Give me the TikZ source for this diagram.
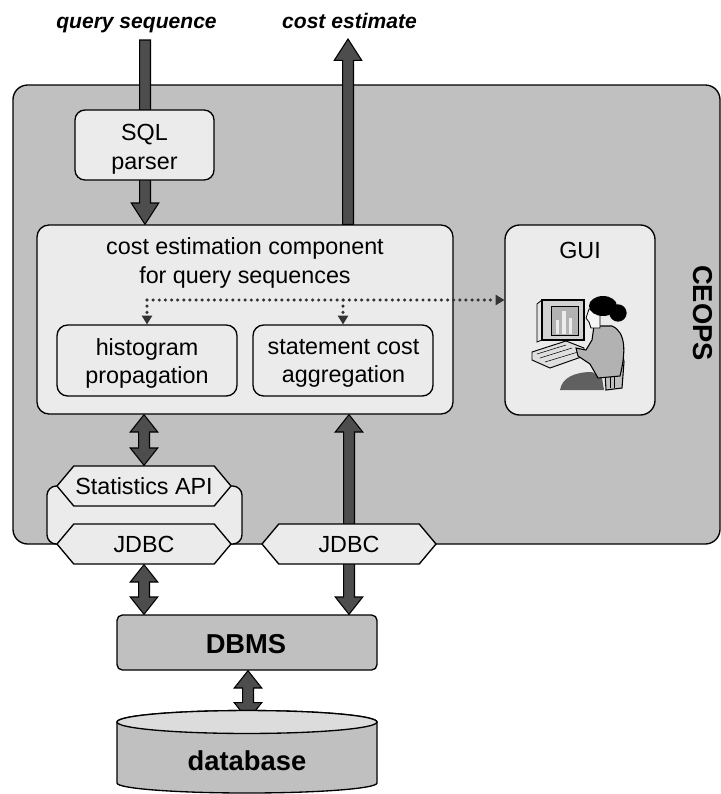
\documentclass[tikz,border=0pt]{standalone}
\usepackage{fontspec}
\setmainfont{Liberation Sans}
\usetikzlibrary{calc,fit,shapes.symbols,arrows.meta}

\pgfdeclarelayer{back}
\pgfdeclarelayer{mid}
\pgfsetlayers{back,mid,main}

\definecolor{panel}{HTML}{C0C0C0}
\definecolor{boxfill}{HTML}{EBEBEB}
\definecolor{arrowfill}{HTML}{4D4D4D}
\definecolor{dotcol}{HTML}{333333}
\definecolor{dbtop}{HTML}{DCDCDC}

\newcommand\txtbody{\fontsize{17.5pt}{21.5pt}\selectfont}
\newcommand\txtbig{\fontsize{20.5pt}{24pt}\selectfont\bfseries}
\newcommand\txttitle{\fontsize{15.8pt}{19pt}\selectfont\bfseries\itshape}

\tikzset{
  lightbox/.style={draw=black, line width=1pt, fill=boxfill, inner sep=0pt},
  darkbox/.style={draw=black, line width=1pt, fill=panel, inner sep=0pt},
  hexbox/.style={signal, signal to=west and east, signal pointer angle=100,
    draw=black, line width=1pt, fill=boxfill, minimum width=130.5pt,
    minimum height=30pt, inner sep=0pt, font=\txtbody},
  txtnode/.style={font=\txtbody, align=center, inner sep=0pt},
  bigtxt/.style={font=\txtbig, inner sep=0pt},
  dotline/.style={draw=dotcol, line width=2.6pt, dash pattern=on 0pt off 4.6pt,
    line cap=round, -{Triangle[length=6.5pt,width=8pt,line width=0pt]}},
  % broad vertical arrow with one head at the target end
  fatone/.style={draw=black, fill=arrowfill, line width=0.8pt, line join=miter,
    to path={let \p1=(\tikztostart), \p2=(\tikztotarget), \n1={(\y2>\y1)?1:-1} in
      ({\x1-4.1pt},{\y1}) -- ({\x1-4.1pt},{\y2-(\n1)*16pt}) -- ({\x1-10.3pt},{\y2-(\n1)*16pt})
      -- ({\x1},{\y2}) -- ({\x1+10.3pt},{\y2-(\n1)*16pt}) -- ({\x1+4.1pt},{\y2-(\n1)*16pt})
      -- ({\x1+4.1pt},{\y1}) -- cycle}},
  % broad vertical arrow with heads at both ends
  fattwo/.style={draw=black, fill=arrowfill, line width=0.8pt, line join=miter,
    to path={let \p1=(\tikztostart), \p2=(\tikztotarget), \n1={(\y2>\y1)?1:-1} in
      ({\x1},{\y1}) -- ({\x1+10.3pt},{\y1+(\n1)*13pt}) -- ({\x1+4.1pt},{\y1+(\n1)*13pt})
      -- ({\x1+4.1pt},{\y2-(\n1)*13pt}) -- ({\x1+10.3pt},{\y2-(\n1)*13pt}) -- ({\x1},{\y2})
      -- ({\x1-10.3pt},{\y2-(\n1)*13pt}) -- ({\x1-4.1pt},{\y2-(\n1)*13pt})
      -- ({\x1-4.1pt},{\y1+(\n1)*13pt}) -- ({\x1-10.3pt},{\y1+(\n1)*13pt}) -- cycle}},
}

\begin{document}
\begin{tikzpicture}[x=0.75pt,y=-0.75pt]
\useasboundingbox (0,0) rectangle (721,794);

% ---- CEOPS frame ----
\begin{pgfonlayer}{back}
  \node[draw=black, line width=1pt, fill=panel, rounded corners=11pt, inner sep=0pt,
        fit={(13,85)(720,544)}] (ceops) {};
\end{pgfonlayer}
\node[bigtxt, rotate=-90] (ceopslabel) at (703,313) {CEOPS};

% ---- external inputs / outputs ----
\node[font=\txttitle, anchor=base, inner sep=0pt] (qtitle) at (136.5,28) {query sequence};
\node[font=\txttitle, anchor=base, inner sep=0pt] (ctitle) at (349.5,28) {cost estimate};
\coordinate (qin) at (145,40);
\coordinate (cout) at (348,39);

% ---- components ----
\node[lightbox, rounded corners=7.5pt, fit={(75,110)(214,180)}] (sql) {};
\node[txtnode] (sqllabel) at (144.5,149) {SQL\\parser};
\node[lightbox, rounded corners=9pt, fit={(37,225)(453,414)}] (cost) {};
\node[txtnode] (costlabel) at (245,263) {cost estimation component\\for query sequences};
\node[lightbox, rounded corners=8pt, fit={(57,325)(237,396)}] (hist) {};
\node[txtnode] (histlabel) at (147,363.5) {histogram\\propagation};
\node[lightbox, rounded corners=8pt, fit={(253,325)(433,396)}] (stmt) {};
\node[txtnode] (stmtlabel) at (343.5,363.5) {statement cost\\aggregation};

\node[lightbox, rounded corners=11pt, fit={(505,225)(655,415)}] (gui) {};
\node[txtnode, anchor=base] (guilabel) at (580,258) {GUI};

% ---- statistics interface and JDBC connectors ----
\node[lightbox, rounded corners=7pt, fit={(47,486)(242,544)}] (statgroup) {};
\node[hexbox] (stat) at (144,486) {Statistics API};
\node[hexbox] (jdbcl) at (144,544) {JDBC};
\node[hexbox] (jdbcr) at (349,544) {JDBC};

% ---- DBMS and database ----
\node[darkbox, rounded corners=4pt, fit={(117,615)(377,670)}] (dbms) {};
\node[bigtxt, anchor=base] (dbmslabel) at (246,653) {DBMS};
\draw[line width=1pt, fill=panel] (117,722) -- (117,783)
  arc[start angle=180, end angle=360, x radius=97.5pt, y radius=7.5pt]
  -- (377,722) arc[start angle=0, end angle=180, x radius=97.5pt, y radius=8.6pt] -- cycle;
\draw[line width=1pt, fill=dbtop] (247,722) ellipse[x radius=97.5pt, y radius=8.6pt];
\node[bigtxt, anchor=base] (db) at (247,770) {database};
\coordinate (dbtop) at (248,720);

% ---- broad data-flow arrows ----
\begin{pgfonlayer}{mid}
  \draw[fatone] (qin) to (qin |- cost.north);
  \draw[fatone] (cout |- cost.north) to (cout);
  \draw[fattwo] (stat.north |- cost.south) to (stat.north);
  \draw[fattwo] (jdbcl.south) to (jdbcl.south |- dbms.north);
  \draw[fattwo] (jdbcr.north |- cost.south) to (jdbcr.north |- dbms.north);
  \draw[fattwo] (dbtop |- dbms.south) to (dbtop);
\end{pgfonlayer}

% ---- dotted notification lines ----
\coordinate (split) at (147,300);
\draw[dotline] (split) -- (split -| gui.west);
\draw[dotline] (split) -- (hist.north);
\draw[dotline] (split -| stmt.north) -- (stmt.north);

% ---- user at a workstation ----
\draw[black, line width=0.6pt, fill=gray!20] (537,304) -- (542,300) -- (542,340) -- (537,342) -- cycle;
\draw[black, line width=0.8pt, fill=gray!35] (542,300) rectangle (584,340);
\draw[black, line width=0.6pt, fill=gray!60] (551,306) rectangle (578,335);
\fill[gray!15] (556,320) rectangle (559,334);
\fill[gray!15] (562,311) rectangle (566,334);
\fill[gray!15] (569,318) rectangle (572,334);
\draw[black, line width=0.7pt, fill=gray!25] (532,352) -- (566,341) -- (584,348)
  -- (584,356) -- (550,368) -- (532,360) -- cycle;
\draw[black, line width=0.4pt] (537,354) -- (566,345) (540,358) -- (572,348) (545,362) -- (578,352);
\fill[gray!75!black] (560,390) .. controls (562,378) and (574,372) .. (592,372) -- (602,378) -- (604,390) -- cycle;
\draw[black, line width=0.8pt, fill=gray!50] (604,355) .. controls (612,348) and (624,350) .. (624,362)
  -- (622,388) -- (606,390) -- cycle;
\draw[black, line width=0.4pt] (610,360) -- (610,388) (614,358) -- (614,388);
\draw[black, line width=0.8pt, fill=gray!60] (594,326) -- (612,326)
  .. controls (626,332) and (626,352) .. (620,376) -- (598,378) -- (590,364)
  -- (578,356) -- (576,348) -- (586,350) -- (592,340) -- cycle;
\draw[black, line width=0.6pt, fill=gray!8] (589,309) -- (586,318) -- (589,322) -- (591,328)
  -- (600,328) -- (600,311) -- cycle;
\fill[black] (603,306) ellipse[x radius=10.5pt, y radius=7.5pt];
\fill[black] (618,313) circle[radius=6.5pt];
\end{tikzpicture}
\end{document}
